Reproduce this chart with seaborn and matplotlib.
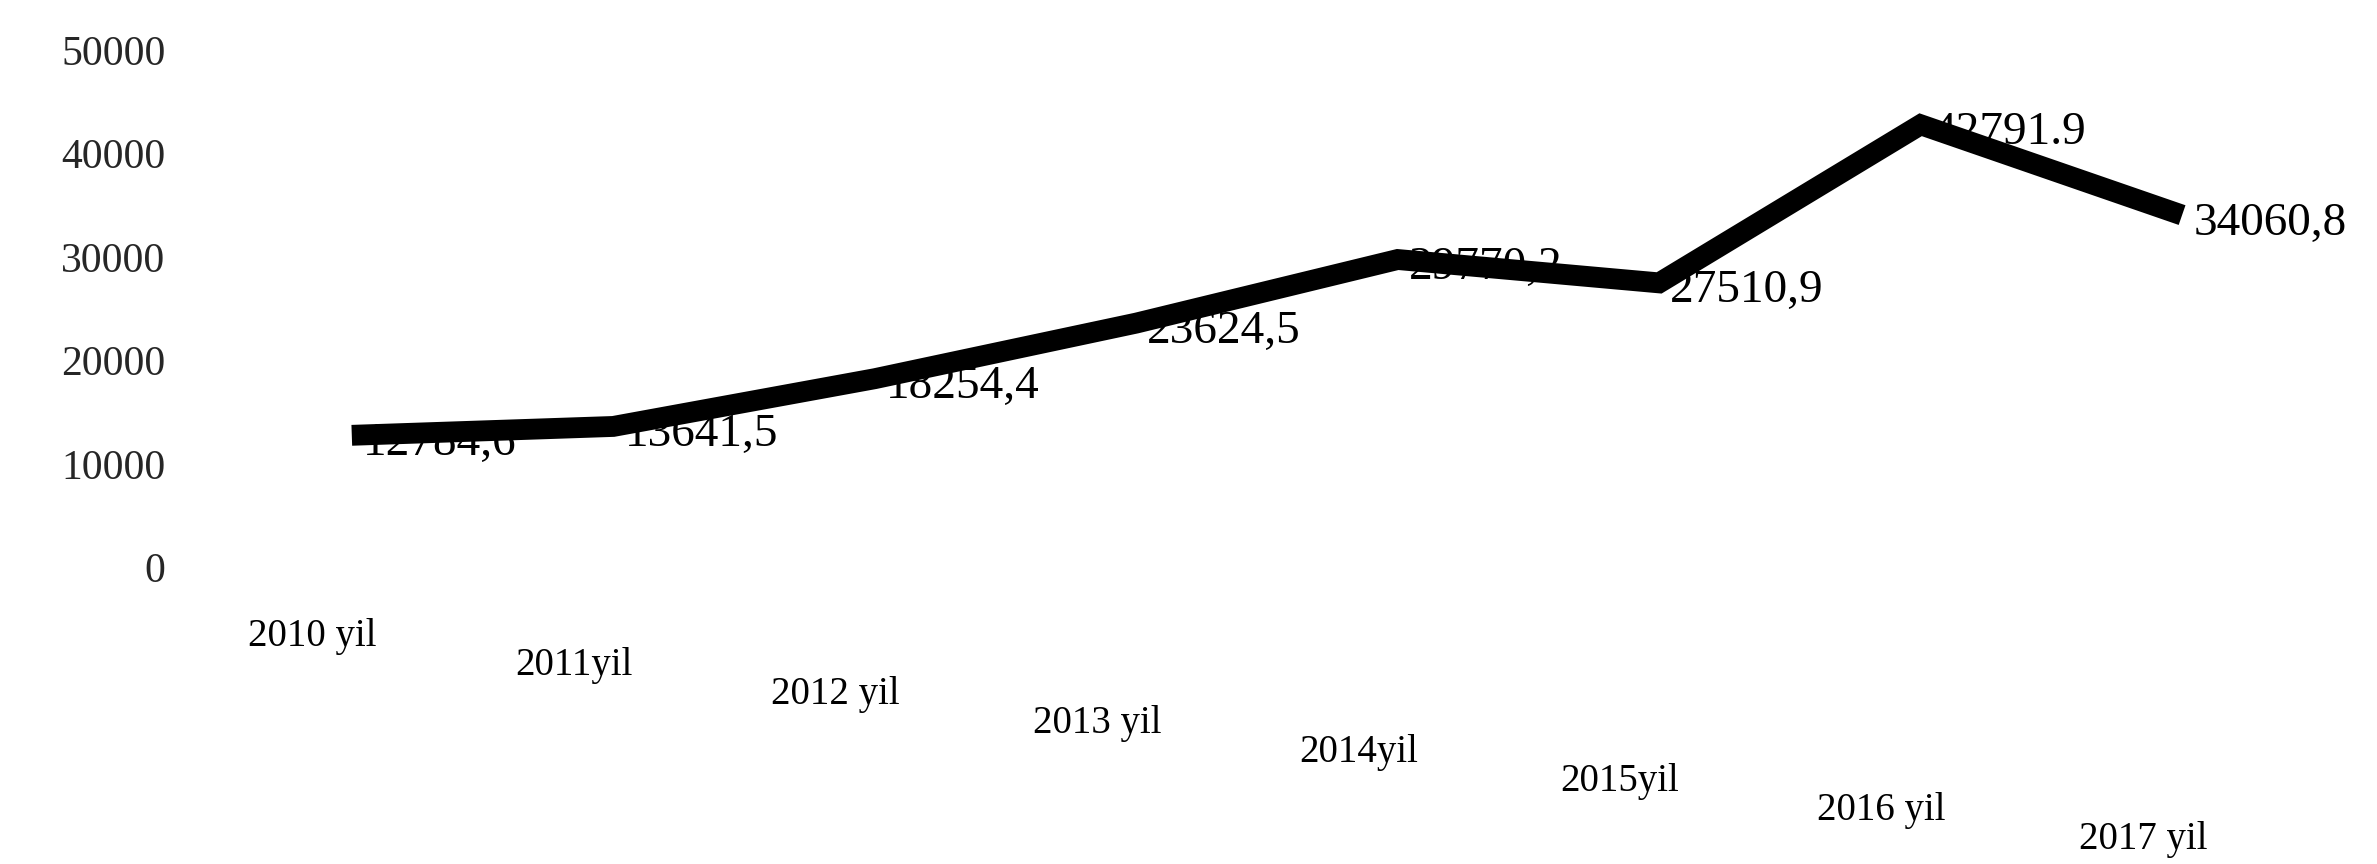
import pandas as pd
import matplotlib
matplotlib.use("Agg")
import matplotlib.pyplot as plt
import seaborn as sns

# Data
years = ["2010 yil", "2011yil", "2012 yil", "2013 yil", "2014yil", "2015yil", "2016 yil", "2017 yil"]
values = [12784.6, 13641.5, 18254.4, 23624.5, 29770.2, 27510.9, 42791.9, 34060.8]
value_labels = ["12784,6", "13641,5", "18254,4", "23624,5", "29770,2", "27510,9", "42791.9", "34060,8"]
y_ticks = [0, 10000, 20000, 30000, 40000, 50000]


def plot_chart():
    sns.set_style("white")
    plt.rcParams["font.family"] = ["Liberation Serif", "DejaVu Serif"]

    df = pd.DataFrame({"pos": range(len(years)), "value": values})

    fig = plt.figure(figsize=(23.77, 8.64), dpi=100)
    ax = fig.add_axes([0.093, 0.343, 0.88, 0.599])

    sns.lineplot(data=df, x="pos", y="value", ax=ax, color="black",
                 linewidth=15, solid_joinstyle="miter", solid_capstyle="butt")

    ax.set_xlim(-0.5, len(years) - 0.5)
    ax.set_ylim(0, 50000)
    ax.set_yticks(y_ticks)
    ax.set_yticklabels([str(t) for t in y_ticks], fontsize=30)
    ax.tick_params(axis="y", length=0, pad=40)
    ax.set_xticks([])
    ax.set_xlabel("")
    ax.set_ylabel("")
    for s in ax.spines.values():
        s.set_visible(False)

    # value labels, just right of each point
    for i, (v, lab) in enumerate(zip(values, value_labels)):
        ax.annotate(lab, (i, v), xytext=(8, -6), textcoords="offset points",
                    ha="left", va="center", fontsize=34, color="black")

    # staggered category labels (perspective look of the original)
    trans = ax.get_xaxis_transform()
    for i, name in enumerate(years):
        ax.text(i - 0.15, -0.133 - i * 0.056, name, transform=trans,
                ha="center", va="center", fontsize=28, color="black",
                clip_on=False)

    fig.savefig("out.png", dpi=100)


if __name__ == "__main__":
    plot_chart()
